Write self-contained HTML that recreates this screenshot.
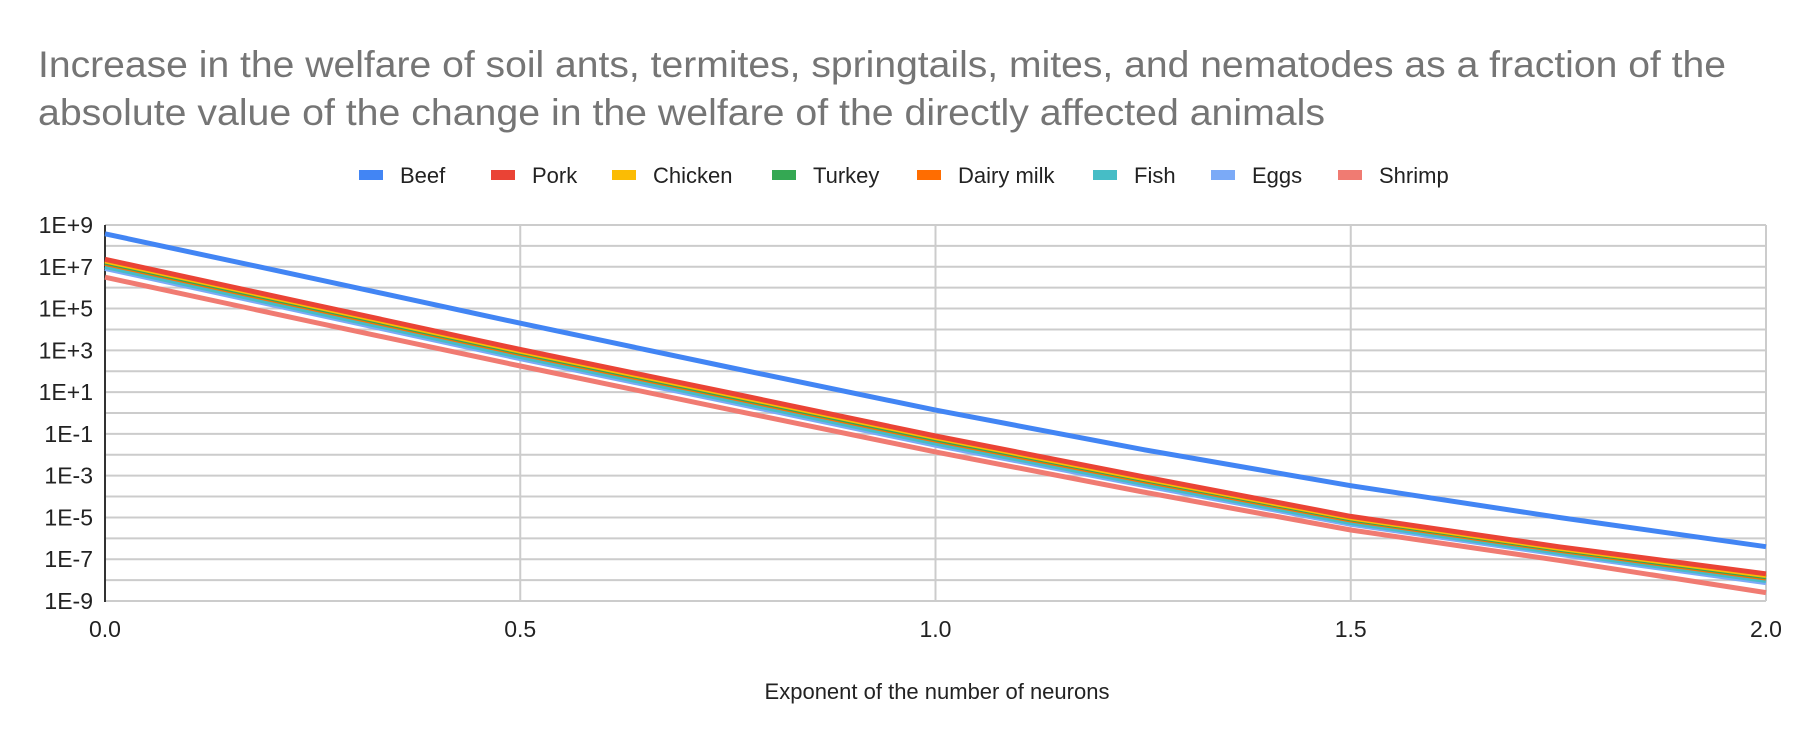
<!DOCTYPE html>
<html><head><meta charset="utf-8"><style>
html,body{margin:0;padding:0;background:#fff;}
svg{display:block;font-family:"Liberation Sans",Arial,sans-serif;}
</style></head><body>
<svg id="chart" width="1804" height="742" viewBox="0 0 1804 742">
<rect width="1804" height="742" fill="#fff"/>
<text x="38" y="77" font-size="37" fill="#757575" textLength="1688" lengthAdjust="spacingAndGlyphs">Increase in the welfare of soil ants, termites, springtails, mites, and nematodes as a fraction of the</text>
<text x="38" y="125" font-size="37" fill="#757575" textLength="1287" lengthAdjust="spacingAndGlyphs">absolute value of the change in the welfare of the directly affected animals</text>
<g id="grid"></g>
<g id="series"></g>
<g id="legend"></g>
<text x="937" y="699" font-size="22" fill="#222" text-anchor="middle">Exponent of the number of neurons</text>
</svg>
<script>
const xs = [0, 0.25, 0.5, 0.75, 1.0, 1.25, 1.5, 1.75, 2.0];
const seriesNames = ["Beef","Pork","Chicken","Turkey","Dairy milk","Fish","Eggs","Shrimp"];
const seriesColors = ["#4285f4","#ea4335","#fbbc04","#34a853","#ff6d01","#46bdc6","#7baaf7","#f07b72"];
// log10 values
const beef    = [8.58, 6.45, 4.30, 2.20, 0.14, -1.75, -3.48, -5.00, -6.40];
const pork    = [7.36, 5.20, 3.04, 0.98, -1.10, -3.05, -4.95, -6.40, -7.70];
const chicken = [7.28, 5.12, 2.96, 0.90, -1.18, -3.13, -5.02, -6.47, -7.78];
const turkey  = [7.22, 5.06, 2.90, 0.84, -1.24, -3.18, -5.07, -6.52, -7.84];
const dairy   = [7.16, 5.00, 2.84, 0.78, -1.30, -3.24, -5.12, -6.57, -7.90];
const fish    = [7.02, 4.86, 2.70, 0.64, -1.44, -3.37, -5.24, -6.68, -8.02];
const eggs    = [6.92, 4.76, 2.60, 0.54, -1.54, -3.46, -5.33, -6.76, -8.12];
const shrimp  = [6.50, 4.36, 2.25, 0.18, -1.86, -3.78, -5.60, -7.05, -8.60];
const allSeries = [beef, pork, chicken, turkey, dairy, fish, eggs, shrimp];
const yTickLabels = ["1E+9","1E+7","1E+5","1E+3","1E+1","1E-1","1E-3","1E-5","1E-7","1E-9"];
const xTickLabels = ["0.0","0.5","1.0","1.5","2.0"];

const NS = "http://www.w3.org/2000/svg";
const L=105, R=1766, T=225, B=601, YMAX=9, YMIN=-9, XMIN=0, XMAX=2;
function xScale(v){return L + (v-XMIN)/(XMAX-XMIN)*(R-L);}
function yScale(v){return T + (YMAX-v)/(YMAX-YMIN)*(B-T);}
function mk(tag, attrs, parent){const e=document.createElementNS(NS,tag);for(const k in attrs)e.setAttribute(k,attrs[k]);parent.appendChild(e);return e;}

const grid=document.getElementById('grid');
for(let d=YMIN; d<=YMAX; d++){
  const g=mk('line',{x1:L,x2:R,y1:yScale(d),y2:yScale(d),stroke:'#cccccc','stroke-width':2},grid);
  
  
}
xTickLabels.forEach((lab)=>{
  const v=parseFloat(lab);
  if(v>XMIN){
    const g=mk('line',{x1:xScale(v),x2:xScale(v),y1:T,y2:B,stroke:'#cccccc','stroke-width':2},grid);
    
    
  }
  const t=mk('text',{x:xScale(v),y:637,'font-size':23,fill:'#222','text-anchor':'middle'},grid);
  t.textContent=lab;
  
  
});
yTickLabels.forEach((lab)=>{
  const v=parseFloat(lab.replace('E','e'));
  const t=mk('text',{x:93,y:yScale(Math.log10(v))+8,'font-size':23,fill:'#222','text-anchor':'end'},grid);
  t.textContent=lab;
  
  
});
const ax=mk('line',{x1:L,x2:L,y1:T,y2:B+1,stroke:'#333','stroke-width':2},grid);



const sg=document.getElementById('series');
for(let i=allSeries.length-1;i>=0;i--){
  const pts=xs.map((x,j)=>xScale(x).toFixed(1)+','+yScale(allSeries[i][j]).toFixed(1)).join(' ');
  const p=mk('polyline',{points:pts,fill:'none',stroke:seriesColors[i],'stroke-width':5,'stroke-linejoin':'round'},sg);
  
  
}

const lg=document.getElementById('legend');
const swX=[359,491,612,772,917,1093,1211,1338];
seriesNames.forEach((n,i)=>{
  const r=mk('rect',{x:swX[i],y:170,width:24,height:10,fill:seriesColors[i]},lg);
  
  
  const t=mk('text',{x:swX[i]+41,y:183,'font-size':22,fill:'#222'},lg);
  t.textContent=n;
  
  
});
</script>
</body></html>
